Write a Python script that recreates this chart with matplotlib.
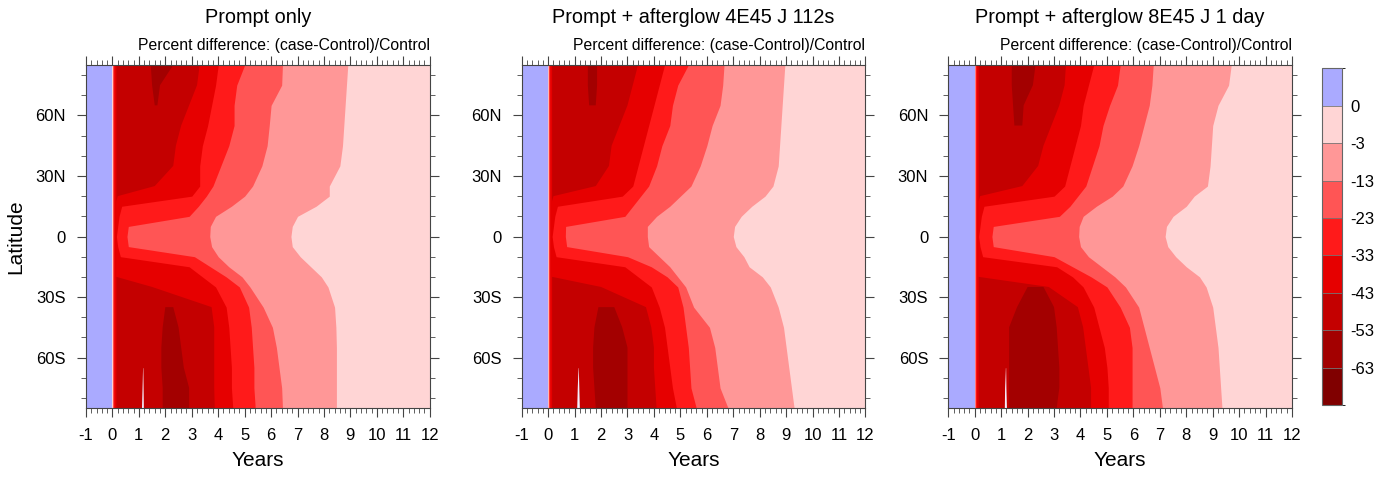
import numpy as np
import matplotlib
matplotlib.use("Agg")
import matplotlib.pyplot as plt
from matplotlib.colors import ListedColormap, BoundaryNorm
from matplotlib.cm import ScalarMappable
from matplotlib.ticker import MultipleLocator

plt.rcParams['font.family'] = ['Liberation Sans', 'DejaVu Sans']
plt.rcParams['axes.unicode_minus'] = False

titles = ['Prompt only', 'Prompt + afterglow 4E45 J 112s', 'Prompt + afterglow 8E45 J 1 day']
subtitle = 'Percent difference: (case-Control)/Control'

# contour levels and fill colours (top of colour bar first)
levels = [0, -3, -13, -23, -33, -43, -53, -63]
fill_colors = ['#aaaaff', '#ffd5d5', '#ff9797', '#ff5555', '#ff1a1a',
               '#e60000', '#c40000', '#a30000', '#800000']

year_first, year_event, year_last = -1, 0, 12
lat = [85, 75, 65, 55, 45, 35, 25, 20, 15, 10, 5, 0, -5, -10, -15, -20, -25,
       -35, -45, -55, -65, -75, -85]
# years after the event at which each band (-3, -13, -23, -33, -43) starts
band_onset = [0.0, 0.01, 0.03, 0.06, 0.15]
nan = np.nan

# year at which each latitude recovers past -3, -13, -23, -33, -43 %
p1_r3 = [8.9, 8.85, 8.8, 8.75, 8.7, 8.6, 8.2, 8.2, 7.7, 7.0, 6.8, 6.75, 6.8, 7.1, 7.5, 7.9, 8.15, 8.4, 8.45, 8.47, 8.47, 8.47, 8.47]
p1_r13 = [6.43, 6.4, 6.0, 5.93, 5.85, 5.65, 5.3, 5.0, 4.5, 3.9, 3.7, 3.68, 3.75, 4.0, 4.4, 4.9, 5.2, 5.7, 6.05, 6.2, 6.3, 6.4, 6.43]
p1_r23 = [5.0, 4.7, 4.6, 4.6, 4.4, 4.1, 3.8, 3.55, 3.25, 2.9, 0.6, 0.55, 0.6, 3.1, 3.7, 4.3, 4.8, 5.15, 5.25, 5.3, 5.35, 5.35, 5.4]
p1_r33 = [4.0, 3.9, 3.75, 3.6, 3.4, 3.3, 3.3, 3.0, 0.35, 0.25, 0.2, 0.15, 0.2, 0.3, 2.9, 3.4, 3.9, 4.3, 4.4, 4.45, 4.5, 4.5, 4.55]
p1_r43 = [3.3, 3.2, 2.9, 2.6, 2.4, 2.3, 1.6, 0.2, 0.1, 0.1, 0.1, 0.1, 0.1, 0.1, 0.1, 0.15, 1.5, 3.75, 3.85, 3.85, 3.85, 3.85, 3.87]
# below -53 % patches: start / end year
p1_d0 = [1.45, 1.5, 1.6, nan, nan, nan, nan, nan, nan, nan, nan, nan, nan, nan, nan, nan, nan, 2.0, 1.9, 1.85, 1.85, 1.9, 1.9]
p1_d1 = [2.3, 1.8, 1.7, nan, nan, nan, nan, nan, nan, nan, nan, nan, nan, nan, nan, nan, nan, 2.3, 2.5, 2.6, 2.7, 2.9, 2.9]

p2_r3 = [8.95, 8.9, 8.85, 8.8, 8.75, 8.7, 8.5, 8.2, 7.7, 7.3, 7.05, 7.0, 7.1, 7.4, 7.6, 8.1, 8.4, 8.7, 8.9, 9.0, 9.1, 9.2, 9.3]
p2_r13 = [6.65, 6.6, 6.5, 6.2, 6.0, 5.75, 5.4, 5.0, 4.6, 4.1, 3.75, 3.75, 3.8, 4.2, 4.6, 4.9, 5.2, 5.5, 6.1, 6.3, 6.4, 6.5, 6.8]
p2_r23 = [5.3, 4.9, 4.7, 4.6, 4.3, 4.1, 3.8, 3.5, 3.2, 2.9, 0.66, 0.65, 0.7, 3.0, 3.9, 4.5, 4.9, 5.1, 5.2, 5.3, 5.35, 5.4, 5.6]
p2_r33 = [4.4, 4.2, 4.0, 3.8, 3.6, 3.4, 3.2, 2.8, 0.35, 0.25, 0.2, 0.15, 0.2, 0.3, 2.9, 3.4, 3.9, 4.2, 4.4, 4.5, 4.6, 4.7, 4.85]
p2_r43 = [3.4, 3.2, 3.0, 2.7, 2.4, 2.3, 1.8, 0.2, 0.1, 0.1, 0.1, 0.1, 0.1, 0.1, 0.1, 0.15, 2.0, 3.7, 3.9, 4.0, 4.0, 4.05, 4.1]
p2_d0 = [1.5, 1.5, 1.55, nan, nan, nan, nan, nan, nan, nan, nan, nan, nan, nan, nan, nan, nan, 1.9, 1.75, 1.7, 1.7, 1.75, 1.8]
p2_d1 = [1.85, 1.85, 1.8, nan, nan, nan, nan, nan, nan, nan, nan, nan, nan, nan, nan, nan, nan, 2.5, 2.8, 3.0, 3.0, 3.0, 3.0]

p3_r3 = [9.7, 9.6, 9.2, 9.0, 8.95, 8.9, 8.8, 8.3, 8.0, 7.5, 7.25, 7.2, 7.3, 7.6, 8.0, 8.5, 8.75, 9.0, 9.1, 9.2, 9.25, 9.3, 9.35]
p3_r13 = [6.75, 6.7, 6.6, 6.4, 6.2, 5.95, 5.6, 5.2, 4.6, 4.1, 3.95, 3.93, 4.0, 4.3, 4.8, 5.3, 5.7, 6.2, 6.4, 6.6, 6.8, 7.0, 7.1]
p3_r23 = [5.5, 5.4, 5.1, 4.85, 4.7, 4.45, 4.2, 3.9, 3.6, 3.2, 0.7, 0.65, 0.7, 3.0, 3.7, 4.4, 5.0, 5.5, 5.85, 5.95, 5.95, 5.95, 5.95]
p3_r33 = [4.5, 4.3, 4.1, 4.0, 3.8, 3.6, 3.4, 3.0, 0.35, 0.25, 0.2, 0.15, 0.2, 0.3, 3.1, 3.7, 4.1, 4.5, 4.7, 4.9, 5.0, 5.05, 5.05]
p3_r43 = [3.45, 3.4, 3.2, 2.9, 2.6, 2.4, 1.8, 0.2, 0.1, 0.1, 0.1, 0.1, 0.1, 0.1, 0.1, 0.15, 2.8, 3.9, 4.1, 4.2, 4.3, 4.4, 4.4]
p3_d0 = [1.4, 1.4, 1.45, 1.5, nan, nan, nan, nan, nan, nan, nan, nan, nan, nan, nan, nan, 2.0, 1.6, 1.3, 1.3, 1.3, 1.3, 1.3]
p3_d1 = [2.3, 2.2, 1.85, 1.8, nan, nan, nan, nan, nan, nan, nan, nan, nan, nan, nan, nan, 2.6, 3.0, 3.1, 3.15, 3.2, 3.2, 3.1]

# thin near-zero gap near the south pole, about 1.1 years after the event
gap_lat = [-65, -75, -85]
gap_start = [[1.14, 1.12, 1.1], [1.13, 1.1, 1.08], [1.16, 1.13, 1.12]]
gap_end = [[1.15, 1.16, 1.17], [1.14, 1.16, 1.18], [1.17, 1.18, 1.2]]

panels = [
    ([p1_r3, p1_r13, p1_r23, p1_r33, p1_r43], p1_d0, p1_d1),
    ([p2_r3, p2_r13, p2_r23, p2_r33, p2_r43], p2_d0, p2_d1),
    ([p3_r3, p3_r13, p3_r23, p3_r33, p3_r43], p3_d0, p3_d1),
]


def draw_panel(ax, k, recover, d0, d1, title, first):
    y = np.array(lat, dtype=float)
    ax.fill_betweenx(y, year_first, year_event, color=fill_colors[0], lw=0)
    ax.fill_betweenx(y, year_event, year_last, color=fill_colors[1], lw=0)
    for i, r in enumerate(recover):
        r = np.array(r)
        start = year_event + band_onset[i]
        ax.fill_betweenx(y, start, r, where=r > start, interpolate=True,
                         color=fill_colors[i + 2], lw=0)
    ax.fill_betweenx(y, np.array(d0), np.array(d1), color=fill_colors[7], lw=0)
    ax.fill_betweenx(gap_lat, gap_start[k], gap_end[k], color='#f4f0ff', lw=0)

    ax.set_xlim(year_first, year_last)
    ax.set_ylim(-85, 85)
    ax.set_xticks(range(year_first, year_last + 1))
    ax.xaxis.set_minor_locator(MultipleLocator(0.2))
    ax.set_yticks([-60, -30, 0, 30, 60])
    ax.set_yticklabels(['60S', '30S', '0', '30N', '60N'])
    ax.yaxis.set_minor_locator(MultipleLocator(10))
    ax.tick_params(which='both', direction='out', top=True, right=True,
                   labelsize=12, color='#444444')
    ax.tick_params(which='major', length=6.5, width=0.8, pad=8)
    ax.tick_params(which='minor', length=3.5, width=0.6)
    for s in ax.spines.values():
        s.set_linewidth(0.8)
        s.set_color('#444444')
    ax.set_xlabel('Years', fontsize=15, labelpad=6)
    if first:
        ax.set_ylabel('Latitude', fontsize=15, labelpad=7)
    ax.text(0.5, 1.138, title, transform=ax.transAxes, ha='center', va='center', fontsize=14.3)
    ax.text(1.0, 1.058, subtitle, transform=ax.transAxes, ha='right', va='center', fontsize=11.3)


fig = plt.figure(figsize=(13.89, 4.79), dpi=100)
lefts = [0.0619, 0.3756, 0.6827]
for k, (recover, d0, d1) in enumerate(panels):
    ax = fig.add_axes([lefts[k], 0.1482, 0.2475, 0.7161])
    draw_panel(ax, k, recover, d0, d1, titles[k], k == 0)

# colour bar
cax = fig.add_axes([0.9516, 0.1545, 0.0148, 0.703])
bounds = [levels[-1] - 10] + levels[::-1] + [levels[0] + 3]
cmap = ListedColormap(fill_colors[::-1])
norm = BoundaryNorm(bounds, cmap.N)
cb = fig.colorbar(ScalarMappable(norm=norm, cmap=cmap), cax=cax, drawedges=True,
                  spacing='uniform', ticks=levels)
cb.set_ticklabels([str(v) for v in levels])
cb.ax.tick_params(length=0, labelsize=12, pad=6)
cb.outline.set_edgecolor('#666666')
cb.outline.set_linewidth(0.8)
cb.dividers.set_color('#777777')
cb.dividers.set_linewidth(0.6)

fig.savefig('out.png', dpi=100)
